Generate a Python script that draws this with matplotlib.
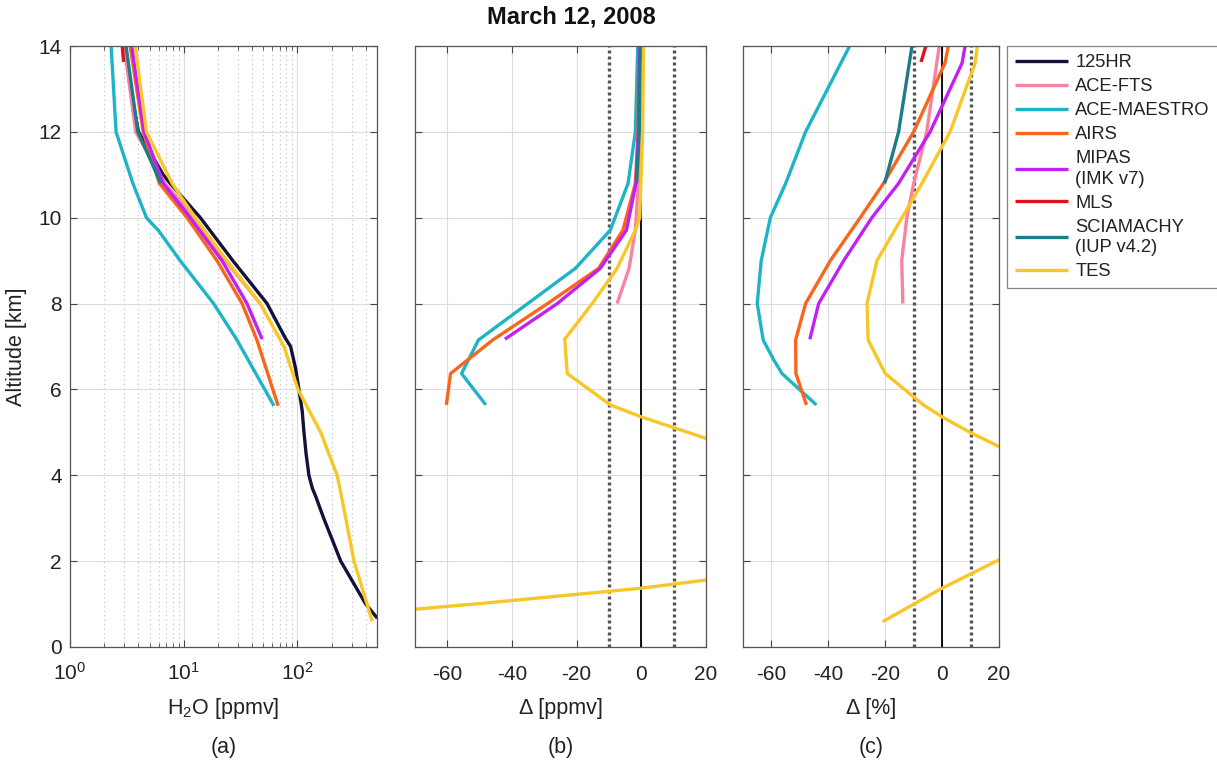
import numpy as np
import matplotlib
matplotlib.use("Agg")
import matplotlib.pyplot as plt
from matplotlib.ticker import LogLocator, NullFormatter

plt.rcParams['font.family'] = ['Liberation Sans', 'DejaVu Sans']
plt.rcParams['mathtext.fontset'] = 'custom'
plt.rcParams['mathtext.rm'] = 'Liberation Sans'
plt.rcParams['mathtext.it'] = 'Liberation Sans:italic'

# ---------------- data ----------------
names = ['125HR', 'ACE-FTS', 'ACE-MAESTRO', 'AIRS', 'MIPAS\n(IMK v7)', 'MLS',
         'SCIAMACHY\n(IUP v4.2)', 'TES']
colors = ['#12123a', '#f7839f', '#1eb4c8', '#f7661c', '#c320f5', '#e0101a',
          '#1d7c8a', '#f8c627']

# panel (a): H2O [ppmv]
alt_a_hr = [14, 13, 12, 11, 10.8, 10, 9, 8, 7.2, 7, 6.5, 6, 5.5, 5, 4.5, 4, 3.7, 3.5, 3, 2, 1, 0.67]
h2o_hr = [3.05, 3.4, 4.0, 6.6, 7.6, 14, 27, 54, 78, 87, 96, 103, 110, 114, 119, 126, 135, 145, 170, 240, 398, 503]
alt_a_fts = [14, 13.6, 12, 10.8, 10, 9, 8]
h2o_fts = [3.02, 3.14, 3.78, 6.84, 12.3, 23.2, 47]
alt_a_mae = [14, 12, 10.8, 10, 9.7, 9, 8, 7.15, 5.62]
h2o_mae = [2.3, 2.54, 3.57, 4.7, 6.0, 9.3, 18.3, 29.4, 62]
alt_a_airs = [14, 12, 10.8, 10, 9, 8, 7.15, 5.62]
h2o_airs = [3.38, 4.4, 6.1, 10.7, 19.6, 32.6, 44, 67.6]
alt_a_mip = [14, 12, 10.8, 10, 9, 8, 7.17]
h2o_mip = [3.49, 4.49, 6.6, 11.4, 21.7, 36, 48.9]
alt_a_mls = [14, 13.63]
h2o_mls = [2.88, 2.96]
alt_a_sci = [14, 12, 10.8]
h2o_sci = [3.11, 3.95, 6.3]
alt_a_tes = [14, 12, 10.8, 10, 9, 8, 7, 6, 5, 4, 3.6, 2, 0.6]
h2o_tes = [3.74, 4.7, 7.9, 12.6, 24, 47, 76, 101, 160, 223, 240, 314, 454]

# panel (b): difference [ppmv]
alt_b_fts = [14, 12, 10.8, 9.71, 8.82, 8]
d_fts = [-0.1, -0.3, -0.9, -1.85, -3.8, -7.5]
alt_b_mae = [14, 12, 10.8, 9.71, 8.82, 7.15, 6.37, 5.64]
d_mae = [-1.1, -1.85, -4.1, -9.6, -20.4, -50.4, -55.6, -48.1]
alt_b_airs = [14, 12, 10.8, 9.71, 8.82, 8, 7.15, 6.37, 5.64]
d_airs = [-0.8, -1.0, -1.85, -5.7, -13.2, -29, -46, -59, -60.3]
alt_b_mip = [14, 12, 10.8, 9.71, 8.82, 8, 7.17]
d_mip = [-0.6, -0.9, -1.65, -4.6, -12.7, -26, -42.2]
alt_b_mls = [14, 13.63]
d_mls = [-0.17, -0.23]
alt_b_sci = [14, 12, 10.8]
d_sci = [-0.32, -0.6, -1.5]
alt_b_tes = [14, 12, 10, 9.71, 8.82, 8, 7.17, 6.37, 5.64, 5.36, 4.86, 4.0, 3.0, 2.0, 1.56, 1.37, 1.02, 0.88, 0.6]
d_tes = [0.7, 0.4, -0.5, -1.85, -7.5, -15.2, -23.7, -22.9, -9.6, 0, 20, 54, 60, 40, 20, 0, -48.7, -70, -105]

# panel (c): difference [%]
alt_c_fts = [14, 13.6, 12, 10.8, 10, 9, 8]
p_fts = [-1, -1.9, -5.4, -10, -12.4, -14.2, -13.8]
alt_c_mae = [14, 12, 10.8, 10, 9, 8, 7.15, 6.69, 6.37, 5.64]
p_mae = [-32.5, -48, -55, -60.4, -63.6, -65, -62.9, -59.2, -56.3, -44.2]
alt_c_airs = [14, 13.6, 12, 10.8, 10, 9, 8, 7.15, 6.37, 5.64]
p_airs = [2.2, 1.0, -10, -20.6, -28.8, -39.3, -48, -51.5, -51.4, -47.7]
alt_c_mip = [14, 13.6, 12, 10.8, 10, 9, 8, 7.17]
p_mip = [8.1, 7, -4.2, -15.3, -24.7, -34.6, -43.4, -46.5]
alt_c_mls = [14, 13.63]
p_mls = [-5.7, -7.4]
alt_c_sci = [14, 12, 10.8]
p_sci = [-10.6, -15.3, -20.2]
alt_c_tes = [14, 13.6, 12, 10.8, 10, 9, 8, 7.15, 6.37, 5.64, 5.36, 5.0, 4.67, 4.0, 3.0, 2.03, 1.37, 0.59]
p_tes = [12.4, 11.6, 2.8, -7.1, -14.1, -22.9, -26.4, -26.0, -20, -6.6, 0, 9.8, 20, 35, 40, 20, 0, -20.9]

# ---------------- figure ----------------
W, H = 1217, 764
fig = plt.figure(figsize=(W / 100, H / 100), dpi=100)

def rect(x0, x1, y0=46, y1=647):
    return [x0 / W, 1 - y1 / H, (x1 - x0) / W, (y1 - y0) / H]

axa = fig.add_axes(rect(70, 377))
axb = fig.add_axes(rect(415, 706))
axc = fig.add_axes(rect(743, 999))

LW = 2.4
TFS = 15
LFS = 15.5

def style(ax):
    ax.set_ylim(0, 14)
    ax.set_yticks(np.arange(0, 15, 2))
    ax.tick_params(which='both', direction='in', top=True, right=True,
                   labelsize=TFS, color='#444444', labelcolor='#222222')
    ax.tick_params(axis='x', which='both', pad=13)
    ax.tick_params(axis='y', which='both', pad=6)
    ax.tick_params(which='major', length=5, width=0.8)
    ax.tick_params(which='minor', length=3, width=0.6)
    for s in ax.spines.values():
        s.set_color('#555555')
        s.set_linewidth(0.9)
    ax.grid(True, which='major', color='#dddddd', lw=0.8)
    ax.set_axisbelow(True)

# panel a
style(axa)
axa.set_xscale('log')
axa.set_xlim(1, 500)
axa.xaxis.set_major_locator(LogLocator(base=10, numticks=10))
axa.xaxis.set_minor_locator(LogLocator(base=10, subs=np.arange(2, 10), numticks=10))
axa.xaxis.set_minor_formatter(NullFormatter())
axa.tick_params(axis='x', which='major', pad=11)
axa.grid(True, which='minor', axis='x', color='#bbbbbb', lw=0.8, ls=(0, (1, 3)))
axa.tick_params(axis='y', which='minor', left=False, right=False)

a_sets = [(h2o_hr, alt_a_hr), (h2o_fts, alt_a_fts), (h2o_mae, alt_a_mae),
          (h2o_airs, alt_a_airs), (h2o_mip, alt_a_mip), (h2o_mls, alt_a_mls),
          (h2o_sci, alt_a_sci), (h2o_tes, alt_a_tes)]
handles = []
for (x, y), c, n in zip(a_sets, colors, names):
    h, = axa.plot(x, y, color=c, lw=LW, label=n, solid_capstyle='butt')
    handles.append(h)

axa.set_ylabel('Altitude [km]', fontsize=LFS, labelpad=8, color='#222222')
axa.text(0.5, -0.102, 'H$_2$O [ppmv]', transform=axa.transAxes, ha='center', va='center',
         fontsize=LFS, color='#222222')
axa.text(0.5, -0.168, '(a)', transform=axa.transAxes, ha='center', va='center',
         fontsize=LFS, color='#222222')

# panels b, c
b_sets = [(d_fts, alt_b_fts, 1), (d_mae, alt_b_mae, 2), (d_airs, alt_b_airs, 3),
          (d_mip, alt_b_mip, 4), (d_mls, alt_b_mls, 5), (d_sci, alt_b_sci, 6),
          (d_tes, alt_b_tes, 7)]
c_sets = [(p_fts, alt_c_fts, 1), (p_mae, alt_c_mae, 2), (p_airs, alt_c_airs, 3),
          (p_mip, alt_c_mip, 4), (p_mls, alt_c_mls, 5), (p_sci, alt_c_sci, 6),
          (p_tes, alt_c_tes, 7)]

for ax, sets, xl, lab in [(axb, b_sets, '\u0394 [ppmv]', '(b)'),
                          (axc, c_sets, '\u0394 [%]', '(c)')]:
    style(ax)
    ax.set_xlim(-70, 20)
    ax.set_xticks([-60, -40, -20, 0, 20])
    ax.set_xticklabels(['-60', '-40', '-20', '0', '20'])
    ax.set_yticklabels([])
    ax.axvline(-10, color='#555555', lw=2.4, ls=(0, (0.9, 0.9)), zorder=1.5)
    ax.axvline(10, color='#555555', lw=2.4, ls=(0, (0.9, 0.9)), zorder=1.5)
    ax.axvline(0, color='black', lw=1.3, zorder=1.6)
    for x, y, i in sets:
        ax.plot(x, y, color=colors[i], lw=LW, zorder=2, solid_capstyle='butt')
    ax.text(0.5, -0.102, xl, transform=ax.transAxes, ha='center', va='center',
            fontsize=LFS, color='#222222')
    ax.text(0.5, -0.168, lab, transform=ax.transAxes, ha='center', va='center',
            fontsize=LFS, color='#222222')

fig.text(571 / W, 1 - 17 / H, 'March 12, 2008', ha='center', va='center',
         fontsize=17, fontweight='bold', color='#111111')

leg = fig.legend(handles=handles, loc='upper left',
                 bbox_to_anchor=(1007 / W, 1 - 46 / H), fontsize=13.2,
                 frameon=True, fancybox=False, edgecolor='#666666',
                 handlelength=2.9, handletextpad=0.38, borderpad=0.45,
                 labelspacing=0.38, borderaxespad=0)
leg.get_frame().set_linewidth(0.9)
for t in leg.get_texts():
    t.set_color('#222222')
    t.set_linespacing(1.27)

fig.savefig('out.png', dpi=100)
